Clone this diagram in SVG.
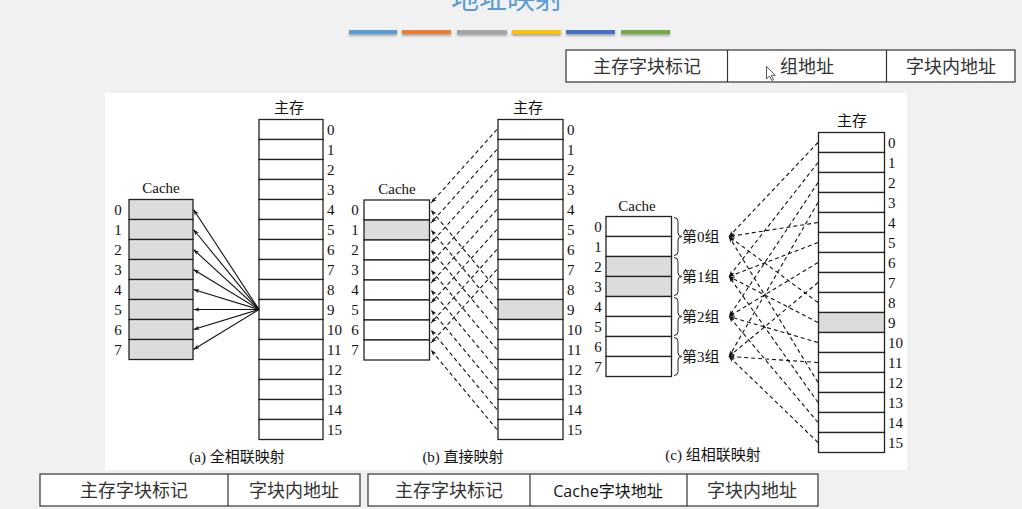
<svg xmlns="http://www.w3.org/2000/svg" width="1022" height="509" viewBox="0 0 1022 509">
<defs>
<style>
.cell{fill:#ffffff;stroke:#222;stroke-width:1.3}
.g{fill:#dcdcdc}
.num{font-family:"Liberation Serif",serif;font-size:15px;fill:#111}
.lbl{font-family:"Liberation Serif","Noto Sans CJK SC",serif;font-size:15px;fill:#111}
.cap{font-family:"Liberation Serif","Noto Sans CJK SC",serif;font-size:15px;fill:#111;text-anchor:middle}
.solid{stroke:#111;stroke-width:1.1;fill:none;marker-end:url(#ah)}
.dash{stroke:#111;stroke-width:1.1;fill:none;stroke-dasharray:4 3;marker-end:url(#ah)}
.tb{fill:#fff;stroke:#333;stroke-width:1.2}
.tt{font-family:"Noto Sans CJK SC",sans-serif;font-size:18px;fill:#333;text-anchor:middle}
.brace{fill:none;stroke:#222;stroke-width:1}
</style>
<marker id="ah" viewBox="0 0 10 10" refX="10" refY="5" markerWidth="9" markerHeight="6" orient="auto" markerUnits="userSpaceOnUse">
<path d="M0,1.5 L10,5 L0,8.5 L3,5 Z" fill="#111"/>
</marker>
<filter id="sh" x="-10%" y="-100%" width="120%" height="400%">
<feDropShadow dx="0" dy="2" stdDeviation="1.2" flood-color="#000" flood-opacity="0.3"/>
</filter>
</defs>
<rect width="1022" height="509" fill="#f1f1f1"/>
<rect x="105" y="93" width="802" height="377" fill="#ffffff"/>

<g id="title">
<text x="507" y="9" font-family="Noto Sans CJK SC,sans-serif" font-size="28" fill="#5b9bd5" text-anchor="middle">地址映射</text>
<g filter="url(#sh)">
<rect x="349" y="30" width="48" height="4" fill="#5b9bd5"/>
<rect x="402" y="30" width="49" height="4" fill="#ed7d31"/>
<rect x="457" y="30" width="50" height="4" fill="#a5a5a5"/>
<rect x="512" y="30" width="49" height="4" fill="#ffc000"/>
<rect x="566" y="30" width="49" height="4" fill="#4472c4"/>
<rect x="621" y="30" width="49" height="4" fill="#70ad47"/>
</g>
</g>

<g id="table-top">
<rect class="tb" x="566" y="50" width="449" height="32"/>
<line x1="727.5" y1="50" x2="727.5" y2="82" stroke="#333" stroke-width="1.2"/>
<line x1="886.5" y1="50" x2="886.5" y2="82" stroke="#333" stroke-width="1.2"/>
<text class="tt" x="647" y="73">主存字块标记</text>
<text class="tt" x="807" y="73">组地址</text>
<text class="tt" x="951" y="73">字块内地址</text>
<path d="M766.5,66.5 L766.5,79 L769.5,76 L771.8,80.5 L773.5,79.6 L771.3,75.3 L775.3,75.3 Z" fill="#fff" stroke="#333" stroke-width="0.8"/>
</g>

<!-- Panel (a) -->
<g id="cache-a">
<text class="lbl" x="161" y="193" text-anchor="middle">Cache</text>
<rect class="cell g" x="129" y="199.5" width="64" height="20"/>
<rect class="cell g" x="129" y="219.5" width="64" height="20"/>
<rect class="cell g" x="129" y="239.5" width="64" height="20"/>
<rect class="cell g" x="129" y="259.5" width="64" height="20"/>
<rect class="cell g" x="129" y="279.5" width="64" height="20"/>
<rect class="cell g" x="129" y="299.5" width="64" height="20"/>
<rect class="cell g" x="129" y="319.5" width="64" height="20"/>
<rect class="cell g" x="129" y="339.5" width="64" height="20"/>
<g class="num" text-anchor="middle">
<text x="118" y="214.5">0</text><text x="118" y="234.5">1</text><text x="118" y="254.5">2</text><text x="118" y="274.5">3</text>
<text x="118" y="294.5">4</text><text x="118" y="314.5">5</text><text x="118" y="334.5">6</text><text x="118" y="354.5">7</text>
</g>
</g>
<g id="mem-a">
<text class="lbl" x="289" y="113" text-anchor="middle">主存</text>
<rect class="cell" x="259" y="119.5" width="64" height="20"/><rect class="cell" x="259" y="139.5" width="64" height="20"/>
<rect class="cell" x="259" y="159.5" width="64" height="20"/><rect class="cell" x="259" y="179.5" width="64" height="20"/>
<rect class="cell" x="259" y="199.5" width="64" height="20"/><rect class="cell" x="259" y="219.5" width="64" height="20"/>
<rect class="cell" x="259" y="239.5" width="64" height="20"/><rect class="cell" x="259" y="259.5" width="64" height="20"/>
<rect class="cell" x="259" y="279.5" width="64" height="20"/><rect class="cell" x="259" y="299.5" width="64" height="20"/>
<rect class="cell" x="259" y="319.5" width="64" height="20"/><rect class="cell" x="259" y="339.5" width="64" height="20"/>
<rect class="cell" x="259" y="359.5" width="64" height="20"/><rect class="cell" x="259" y="379.5" width="64" height="20"/>
<rect class="cell" x="259" y="399.5" width="64" height="20"/><rect class="cell" x="259" y="419.5" width="64" height="20"/>
<g class="num">
<text x="327" y="135">0</text><text x="327" y="155">1</text><text x="327" y="175">2</text><text x="327" y="195">3</text>
<text x="327" y="215">4</text><text x="327" y="235">5</text><text x="327" y="255">6</text><text x="327" y="275">7</text>
<text x="327" y="295">8</text><text x="327" y="315">9</text><text x="327" y="335">10</text><text x="327" y="355">11</text>
<text x="327" y="375">12</text><text x="327" y="395">13</text><text x="327" y="415">14</text><text x="327" y="435">15</text>
</g>
<text class="cap" x="237" y="462">(a) 全相联映射</text>
</g>

<!-- Panel (b) -->
<g id="cache-b">
<text class="lbl" x="397" y="194" text-anchor="middle">Cache</text>
<rect class="cell" x="364" y="200" width="65.5" height="20"/>
<rect class="cell g" x="364" y="220" width="65.5" height="20"/>
<rect class="cell" x="364" y="240" width="65.5" height="20"/>
<rect class="cell" x="364" y="260" width="65.5" height="20"/>
<rect class="cell" x="364" y="280" width="65.5" height="20"/>
<rect class="cell" x="364" y="300" width="65.5" height="20"/>
<rect class="cell" x="364" y="320" width="65.5" height="20"/>
<rect class="cell" x="364" y="340" width="65.5" height="20"/>
<g class="num" text-anchor="middle">
<text x="355" y="215">0</text><text x="355" y="235">1</text><text x="355" y="255">2</text><text x="355" y="275">3</text>
<text x="355" y="295">4</text><text x="355" y="315">5</text><text x="355" y="335">6</text><text x="355" y="355">7</text>
</g>
</g>
<g id="mem-b">
<text class="lbl" x="528" y="113" text-anchor="middle">主存</text>
<rect class="cell" x="498" y="119.5" width="65" height="20"/><rect class="cell" x="498" y="139.5" width="65" height="20"/>
<rect class="cell" x="498" y="159.5" width="65" height="20"/><rect class="cell" x="498" y="179.5" width="65" height="20"/>
<rect class="cell" x="498" y="199.5" width="65" height="20"/><rect class="cell" x="498" y="219.5" width="65" height="20"/>
<rect class="cell" x="498" y="239.5" width="65" height="20"/><rect class="cell" x="498" y="259.5" width="65" height="20"/>
<rect class="cell" x="498" y="279.5" width="65" height="20"/><rect class="cell g" x="498" y="299.5" width="65" height="20"/>
<rect class="cell" x="498" y="319.5" width="65" height="20"/><rect class="cell" x="498" y="339.5" width="65" height="20"/>
<rect class="cell" x="498" y="359.5" width="65" height="20"/><rect class="cell" x="498" y="379.5" width="65" height="20"/>
<rect class="cell" x="498" y="399.5" width="65" height="20"/><rect class="cell" x="498" y="419.5" width="65" height="20"/>
<g class="num">
<text x="567" y="135">0</text><text x="567" y="155">1</text><text x="567" y="175">2</text><text x="567" y="195">3</text>
<text x="567" y="215">4</text><text x="567" y="235">5</text><text x="567" y="255">6</text><text x="567" y="275">7</text>
<text x="567" y="295">8</text><text x="567" y="315">9</text><text x="567" y="335">10</text><text x="567" y="355">11</text>
<text x="567" y="375">12</text><text x="567" y="395">13</text><text x="567" y="415">14</text><text x="567" y="435">15</text>
</g>
<text class="cap" x="463" y="462">(b) 直接映射</text>
</g>

<!-- Panel (c) -->
<g id="cache-c">
<text class="lbl" x="637" y="211" text-anchor="middle">Cache</text>
<rect class="cell" x="606" y="216.5" width="65.5" height="20"/>
<rect class="cell" x="606" y="236.5" width="65.5" height="20"/>
<rect class="cell g" x="606" y="256.5" width="65.5" height="20"/>
<rect class="cell g" x="606" y="276.5" width="65.5" height="20"/>
<rect class="cell" x="606" y="296.5" width="65.5" height="20"/>
<rect class="cell" x="606" y="316.5" width="65.5" height="20"/>
<rect class="cell" x="606" y="336.5" width="65.5" height="20"/>
<rect class="cell" x="606" y="356.5" width="65.5" height="20"/>
<g class="num" text-anchor="middle">
<text x="598" y="232">0</text><text x="598" y="252">1</text><text x="598" y="272">2</text><text x="598" y="292">3</text>
<text x="598" y="312">4</text><text x="598" y="332">5</text><text x="598" y="352">6</text><text x="598" y="372">7</text>
</g>
</g>
<g id="groups-c">
<path class="brace" d="M674,217.5 Q678,217.5 678,221.5 L678,233 Q678,236.5 682,236.5 Q678,236.5 678,240 L678,251.5 Q678,255.5 674,255.5"/>
<path class="brace" d="M674,257.5 Q678,257.5 678,261.5 L678,273 Q678,276.5 682,276.5 Q678,276.5 678,280 L678,291.5 Q678,295.5 674,295.5"/>
<path class="brace" d="M674,297.5 Q678,297.5 678,301.5 L678,313 Q678,316.5 682,316.5 Q678,316.5 678,320 L678,331.5 Q678,335.5 674,335.5"/>
<path class="brace" d="M674,337.5 Q678,337.5 678,341.5 L678,353 Q678,356.5 682,356.5 Q678,356.5 678,360 L678,371.5 Q678,375.5 674,375.5"/>
<g class="lbl">
<text x="682" y="242">第0组</text>
<text x="682" y="282">第1组</text>
<text x="682" y="322">第2组</text>
<text x="682" y="362">第3组</text>
</g>
</g>
<g id="mem-c">
<text class="lbl" x="852" y="126" text-anchor="middle">主存</text>
<rect class="cell" x="818.5" y="132.5" width="66" height="20"/><rect class="cell" x="818.5" y="152.5" width="66" height="20"/>
<rect class="cell" x="818.5" y="172.5" width="66" height="20"/><rect class="cell" x="818.5" y="192.5" width="66" height="20"/>
<rect class="cell" x="818.5" y="212.5" width="66" height="20"/><rect class="cell" x="818.5" y="232.5" width="66" height="20"/>
<rect class="cell" x="818.5" y="252.5" width="66" height="20"/><rect class="cell" x="818.5" y="272.5" width="66" height="20"/>
<rect class="cell" x="818.5" y="292.5" width="66" height="20"/><rect class="cell g" x="818.5" y="312.5" width="66" height="20"/>
<rect class="cell" x="818.5" y="332.5" width="66" height="20"/><rect class="cell" x="818.5" y="352.5" width="66" height="20"/>
<rect class="cell" x="818.5" y="372.5" width="66" height="20"/><rect class="cell" x="818.5" y="392.5" width="66" height="20"/>
<rect class="cell" x="818.5" y="412.5" width="66" height="20"/><rect class="cell" x="818.5" y="432.5" width="66" height="20"/>
<g class="num">
<text x="888" y="148">0</text><text x="888" y="168">1</text><text x="888" y="188">2</text><text x="888" y="208">3</text>
<text x="888" y="228">4</text><text x="888" y="248">5</text><text x="888" y="268">6</text><text x="888" y="288">7</text>
<text x="888" y="308">8</text><text x="888" y="328">9</text><text x="888" y="348">10</text><text x="888" y="368">11</text>
<text x="888" y="388">12</text><text x="888" y="408">13</text><text x="888" y="428">14</text><text x="888" y="448">15</text>
</g>
<text class="cap" x="713" y="460">(c) 组相联映射</text>
</g>

<g id="connectors">
<!-- (a) fully associative -->
<line class="solid" x1="259" y1="309.5" x2="193.5" y2="209.5"/>
<line class="solid" x1="259" y1="309.5" x2="193.5" y2="229.5"/>
<line class="solid" x1="259" y1="309.5" x2="193.5" y2="249.5"/>
<line class="solid" x1="259" y1="309.5" x2="193.5" y2="269.5"/>
<line class="solid" x1="259" y1="309.5" x2="193.5" y2="289.5"/>
<line class="solid" x1="259" y1="309.5" x2="193.5" y2="309.5"/>
<line class="solid" x1="259" y1="309.5" x2="193.5" y2="329.5"/>
<line class="solid" x1="259" y1="309.5" x2="193.5" y2="349.5"/>
<!-- (b) direct -->
<line class="dash" x1="497" y1="129.5" x2="431" y2="203"/>
<line class="dash" x1="497" y1="149.5" x2="431" y2="223"/>
<line class="dash" x1="497" y1="169.5" x2="431" y2="243"/>
<line class="dash" x1="497" y1="189.5" x2="431" y2="263"/>
<line class="dash" x1="497" y1="209.5" x2="431" y2="283"/>
<line class="dash" x1="497" y1="229.5" x2="431" y2="303"/>
<line class="dash" x1="497" y1="249.5" x2="431" y2="323"/>
<line class="dash" x1="497" y1="269.5" x2="431" y2="343"/>
<line class="dash" x1="497" y1="289.5" x2="431" y2="210"/>
<line class="dash" x1="497" y1="309.5" x2="431" y2="230"/>
<line class="dash" x1="497" y1="329.5" x2="431" y2="250"/>
<line class="dash" x1="497" y1="349.5" x2="431" y2="270"/>
<line class="dash" x1="497" y1="369.5" x2="431" y2="290"/>
<line class="dash" x1="497" y1="389.5" x2="431" y2="310"/>
<line class="dash" x1="497" y1="409.5" x2="431" y2="330"/>
<line class="dash" x1="497" y1="429.5" x2="431" y2="350"/>
<!-- (c) set associative -->
<line class="dash" x1="818" y1="142.5" x2="729" y2="236.5"/>
<line class="dash" x1="818" y1="162.5" x2="729" y2="276.5"/>
<line class="dash" x1="818" y1="182.5" x2="729" y2="316.5"/>
<line class="dash" x1="818" y1="202.5" x2="729" y2="356.5"/>
<line class="dash" x1="818" y1="222.5" x2="729" y2="236.5"/>
<line class="dash" x1="818" y1="242.5" x2="729" y2="276.5"/>
<line class="dash" x1="818" y1="262.5" x2="729" y2="316.5"/>
<line class="dash" x1="818" y1="282.5" x2="729" y2="356.5"/>
<line class="dash" x1="818" y1="302.5" x2="729" y2="236.5"/>
<line class="dash" x1="818" y1="322.5" x2="729" y2="276.5"/>
<line class="dash" x1="818" y1="342.5" x2="729" y2="316.5"/>
<line class="dash" x1="818" y1="362.5" x2="729" y2="356.5"/>
<line class="dash" x1="818" y1="382.5" x2="729" y2="236.5"/>
<line class="dash" x1="818" y1="402.5" x2="729" y2="276.5"/>
<line class="dash" x1="818" y1="422.5" x2="729" y2="316.5"/>
<line class="dash" x1="818" y1="442.5" x2="729" y2="356.5"/>
</g>

<g id="table-a">
<rect class="tb" x="40" y="474" width="320" height="32"/>
<line x1="228" y1="474" x2="228" y2="506" stroke="#333" stroke-width="1.2"/>
<text class="tt" x="134" y="497">主存字块标记</text>
<text class="tt" x="294" y="497">字块内地址</text>
</g>
<g id="table-b">
<rect class="tb" x="368" y="474" width="450" height="32"/>
<line x1="530" y1="474" x2="530" y2="506" stroke="#333" stroke-width="1.2"/>
<line x1="687" y1="474" x2="687" y2="506" stroke="#333" stroke-width="1.2"/>
<text class="tt" x="449" y="497">主存字块标记</text>
<text x="608" y="497" font-family="Open Sans,Noto Sans CJK SC,sans-serif" font-size="16" fill="#111" text-anchor="middle">Cache字块地址</text>
<text class="tt" x="752" y="497">字块内地址</text>
</g>
</svg>
